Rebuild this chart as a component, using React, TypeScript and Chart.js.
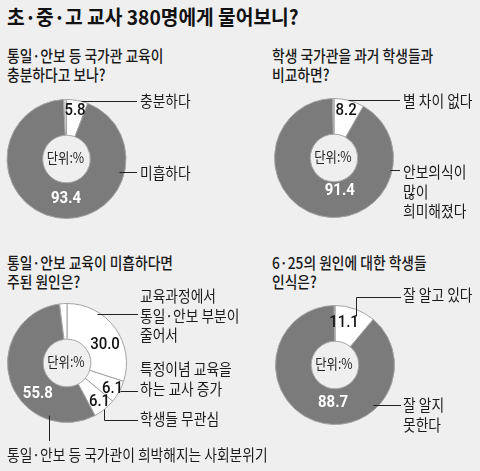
import React, { useEffect, useRef } from "react";
import { Chart, registerables } from "chart.js";

Chart.register(...registerables);

// ---- data ----
const q1Labels = ["충분하다", "미흡하다", "무응답"];
const q1Values = [5.8, 93.4, 0.8];

const q2Labels = ["별 차이 없다", "안보의식이\n많이\n희미해졌다", "무응답"];
const q2Values = [8.2, 91.4, 0.4];

const q3Labels = [
  "교육과정에서\n통일·안보 부분이\n줄어서",
  "특정이념 교육을\n하는 교사 증가",
  "학생들 무관심",
  "통일·안보 등 국가관이 희박해지는 사회분위기",
  "기타",
];
const q3Values = [30.0, 6.1, 6.1, 55.8, 2.0];

const q4Labels = ["잘 알고 있다", "잘 알지\n못한다", "무응답"];
const q4Values = [11.1, 88.7, 0.2];

const GREY = "#7b7b7b";
const WHITE = "#ffffff";
const SLIVER = "#d4d4d4";
const BG = "#efefef";
const KR = '"Noto Sans CJK KR", sans-serif';
const NUM = 'Roboto, "Noto Sans", sans-serif';

type ValueLabel = { i: number; deg: number; rf: number; light?: boolean };
type Callout = {
  i: number;
  deg: number;
  rf: number;
  path: "h" | "vh" | "v";
  toX?: number;
  toY?: number;
  textX: number;
  textY: number;
};
type Spec = {
  labels: string[];
  values: number[];
  colors: string[];
  cx: number;
  cy: number;
  valueLabels: ValueLabel[];
  callouts: Callout[];
};

const specs: Spec[] = [
  {
    labels: q1Labels,
    values: q1Values,
    colors: [WHITE, GREY, SLIVER],
    cx: 66.5,
    cy: 159,
    valueLabels: [
      { i: 0, deg: 10, rf: 0.82 },
      { i: 1, deg: 180.7, rf: 0.67, light: true },
    ],
    callouts: [
      { i: 0, deg: 14, rf: 1, path: "h", toX: 137, textX: 140, textY: 102 },
      { i: 1, deg: 104, rf: 0.91, path: "h", toX: 137, textX: 140, textY: 174 },
    ],
  },
  {
    labels: q2Labels,
    values: q2Values,
    colors: [WHITE, GREY, SLIVER],
    cx: 334,
    cy: 158,
    valueLabels: [
      { i: 0, deg: 14.3, rf: 0.82 },
      { i: 1, deg: 170, rf: 0.56, light: true },
    ],
    callouts: [
      { i: 0, deg: 14, rf: 1, path: "h", toX: 400, textX: 403, textY: 102 },
      { i: 1, deg: 102, rf: 0.96, path: "h", toX: 400, textX: 403, textY: 173 },
    ],
  },
  {
    labels: q3Labels,
    values: q3Values,
    colors: [WHITE, WHITE, WHITE, GREY, WHITE],
    cx: 67,
    cy: 363,
    valueLabels: [
      { i: 0, deg: 64, rf: 0.71 },
      { i: 1, deg: 119.7, rf: 0.88 },
      { i: 2, deg: 140, rf: 0.85 },
      { i: 3, deg: 223.6, rf: 0.71, light: true },
    ],
    callouts: [
      { i: 0, deg: 31.5, rf: 0.965, path: "h", toX: 138, textX: 140, textY: 297 },
      { i: 1, deg: 118, rf: 1, path: "h", toX: 138, textX: 140, textY: 370 },
      { i: 2, deg: 141, rf: 1, path: "vh", toY: 420, toX: 138, textX: 140, textY: 420 },
      { i: 3, deg: 199, rf: 0.925, path: "v", toY: 441, textX: 7, textY: 456 },
    ],
  },
  {
    labels: q4Labels,
    values: q4Values,
    colors: [WHITE, GREY, SLIVER],
    cx: 335,
    cy: 365,
    valueLabels: [
      { i: 0, deg: 12, rf: 0.73 },
      { i: 1, deg: 183, rf: 0.64, light: true },
    ],
    callouts: [
      { i: 0, deg: 23, rf: 0.9, path: "vh", toY: 297, toX: 401, textX: 403, textY: 296 },
      { i: 1, deg: 136.5, rf: 0.93, path: "h", toX: 401, textX: 403, textY: 406 },
    ],
  },
];

const W = 480;
const H = 471;
const HALF = 60;

function drawText(
  ctx: CanvasRenderingContext2D,
  s: string,
  x: number,
  y: number,
  font: string,
  color: string,
  align: CanvasTextAlign,
  sx: number
) {
  ctx.save();
  ctx.font = font;
  ctx.fillStyle = color;
  ctx.textBaseline = "middle";
  ctx.textAlign = align;
  ctx.translate(x, y);
  ctx.scale(sx, 1);
  ctx.fillText(s, 0, 0);
  ctx.restore();
}

function makePlugin(spec: Spec) {
  return {
    id: "pieText",
    afterDatasetsDraw(chart: any) {
      const ctx: CanvasRenderingContext2D = chart.ctx;
      const arc: any = chart.getDatasetMeta(0).data[0];
      if (!arc) return;
      const cx = arc.x;
      const cy = arc.y;
      const R = arc.outerRadius;
      const at = (deg: number, rf: number) => {
        const a = (deg * Math.PI) / 180;
        return { x: cx + R * rf * Math.sin(a), y: cy - R * rf * Math.cos(a) };
      };

      drawText(ctx, "단위:%", cx - 1, cy - 1, `400 14px ${KR}`, "#222", "center", 0.88);

      spec.valueLabels.forEach((v) => {
        const p = at(v.deg, v.rf);
        const txt = spec.values[v.i].toFixed(1);
        drawText(
          ctx,
          txt,
          p.x,
          p.y,
          `${v.light ? 700 : 500} 17px ${NUM}`,
          v.light ? "#ffffff" : "#111",
          "center",
          0.88
        );
      });

      ctx.save();
      ctx.strokeStyle = "#222";
      ctx.lineWidth = 1;
      spec.callouts.forEach((c) => {
        const p = at(c.deg, c.rf);
        const px = Math.round(p.x) + 0.5;
        const py = Math.round(p.y) + 0.5;
        ctx.beginPath();
        ctx.moveTo(px, py);
        if (c.path === "h") {
          ctx.lineTo(c.toX!, py);
        } else if (c.path === "vh") {
          const ey = Math.round(c.toY!) + 0.5;
          ctx.lineTo(px, ey);
          ctx.lineTo(c.toX!, ey);
        } else {
          ctx.lineTo(px, c.toY!);
        }
        ctx.stroke();
        spec.labels[c.i].split("\n").forEach((line, k) => {
          drawText(ctx, line, c.textX, c.textY - 1 + k * 19.5, `400 16px ${KR}`, "#1a1a1a", "left", 0.86);
        });
      });
      ctx.restore();
    },
  };
}

function Donut({ spec }: { spec: Spec }) {
  const canvasRef = useRef<HTMLCanvasElement | null>(null);
  const chartRef = useRef<Chart | null>(null);

  useEffect(() => {
    if (!canvasRef.current) return;
    if (chartRef.current) chartRef.current.destroy();
    const ctx = canvasRef.current.getContext("2d");
    if (!ctx) return;

    chartRef.current = new Chart(ctx, {
      type: "doughnut",
      data: {
        labels: spec.labels,
        datasets: [
          {
            data: spec.values,
            backgroundColor: spec.colors,
            borderColor: "#a4a4a4",
            borderWidth: 1,
          },
        ],
      },
      options: {
        animation: false,
        responsive: false,
        events: [],
        cutout: "40%",
        rotation: 0,
        layout: {
          padding: {
            left: spec.cx - HALF,
            top: spec.cy - HALF,
            right: W - spec.cx - HALF,
            bottom: H - spec.cy - HALF,
          },
        },
        plugins: {
          legend: { display: false },
          tooltip: { enabled: false },
        },
      },
      plugins: [makePlugin(spec)],
    });

    return () => {
      if (chartRef.current) {
        chartRef.current.destroy();
        chartRef.current = null;
      }
    };
  }, [spec]);

  return (
    <canvas
      ref={canvasRef}
      width={W}
      height={H}
      style={{ position: "absolute", left: 0, top: 0, width: W, height: H }}
    />
  );
}

const headStyle: React.CSSProperties = {
  position: "absolute",
  fontFamily: KR,
  fontSize: 16,
  fontWeight: 500,
  lineHeight: "19px",
  color: "#1a1a1a",
  whiteSpace: "pre",
  transform: "scaleX(0.86)",
  transformOrigin: "left top",
};

export default function App() {
  return (
    <div
      style={{
        position: "absolute",
        left: 0,
        top: 0,
        width: W,
        height: H,
        background: BG,
        overflow: "hidden",
      }}
    >
      <div
        style={{
          position: "absolute",
          left: 7,
          top: 5,
          fontFamily: KR,
          fontWeight: 700,
          fontSize: 20,
          lineHeight: "24px",
          color: "#111",
          whiteSpace: "pre",
          transform: "scaleX(0.96)",
          transformOrigin: "left top",
        }}
      >
        초·중·고 교사 380명에게 물어보니?
      </div>
      <div style={{ ...headStyle, left: 7, top: 46 }}>{"통일·안보 등 국가관 교육이\n충분하다고 보나?"}</div>
      <div style={{ ...headStyle, left: 272, top: 46 }}>{"학생 국가관을 과거 학생들과\n비교하면?"}</div>
      <div style={{ ...headStyle, left: 7, top: 253 }}>{"통일·안보 교육이 미흡하다면\n주된 원인은?"}</div>
      <div style={{ ...headStyle, left: 272, top: 253 }}>{"6·25의 원인에 대한 학생들\n인식은?"}</div>
      {specs.map((s, k) => (
        <Donut key={k} spec={s} />
      ))}
    </div>
  );
}
